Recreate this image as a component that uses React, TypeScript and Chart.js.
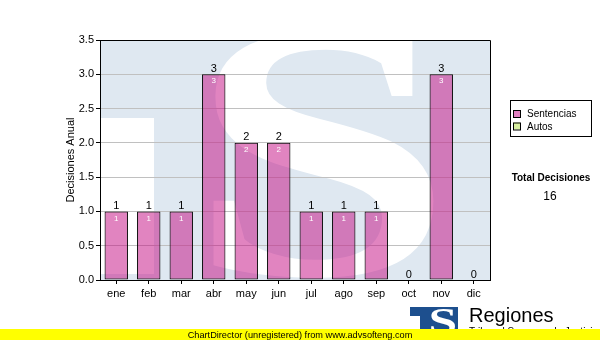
import React, { useEffect, useRef } from "react";
import { Chart, registerables } from "chart.js";

Chart.register(...registerables);

const MONTHS = ["ene", "feb", "mar", "abr", "may", "jun", "jul", "ago", "sep", "oct", "nov", "dic"];
const SENTENCIAS = [1, 1, 1, 3, 2, 2, 1, 1, 1, 0, 3, 0];
const AUTOS = [0, 0, 0, 0, 0, 0, 0, 0, 0, 0, 0, 0];
const Y_MIN = 0;
const Y_MAX = 3.5;
const Y_STEP = 0.5;
const LEGEND_LABELS = ["Sentencias", "Autos"];
const TOTAL_LABEL = "Total Decisiones";
const Y_TITLE = "Decisiones Anual";
const FOOTER = "ChartDirector (unregistered) from www.advsofteng.com";

const PINK = "rgba(196,10,130,0.5)";
const PINK_SWATCH = "#e080c0";
const GREEN_SWATCH = "#d8f0a0";
const WM_BLUE = "#dfe8f1";
const LOGO_BLUE = "#1d4f8e";
const SANS = '"Liberation Sans", Arial, sans-serif';

function drawGlyph(ctx: CanvasRenderingContext2D, ch: string, x0: number, y0: number, x1: number, y1: number, color: string) {
  ctx.save();
  ctx.font = 'bold 200px "Liberation Serif", serif';
  ctx.textAlign = "left";
  ctx.textBaseline = "alphabetic";
  const m = ctx.measureText(ch);
  const w = m.actualBoundingBoxLeft + m.actualBoundingBoxRight;
  const h = m.actualBoundingBoxAscent + m.actualBoundingBoxDescent;
  ctx.translate(x0, y0);
  ctx.scale((x1 - x0) / w, (y1 - y0) / h);
  ctx.fillStyle = color;
  ctx.fillText(ch, m.actualBoundingBoxLeft, m.actualBoundingBoxAscent);
  ctx.restore();
}

const watermarkPlugin = {
  id: "watermark",
  beforeDraw(chart: any) {
    const { ctx, chartArea: a } = chart;
    ctx.save();
    ctx.beginPath();
    ctx.rect(a.left, a.top, a.right - a.left, a.bottom - a.top);
    ctx.clip();
    ctx.fillStyle = WM_BLUE;
    ctx.fillRect(a.left, a.top, a.right - a.left, a.bottom - a.top);
    ctx.fillStyle = "#ffffff";
    ctx.fillRect(a.left, a.top + 78, 54, 156);
    drawGlyph(ctx, "S", a.left + 112, a.top - 8, a.left + 334, a.top + 238, "#ffffff");
    ctx.restore();
  },
};

const borderPlugin = {
  id: "frame",
  afterDatasetsDraw(chart: any) {
    const { ctx, chartArea: a } = chart;
    ctx.save();
    ctx.strokeStyle = "#000";
    ctx.lineWidth = 1;
    ctx.beginPath();
    ctx.moveTo(a.left, a.top + 0.5);
    ctx.lineTo(a.right + 0.5, a.top + 0.5);
    ctx.lineTo(a.right + 0.5, a.bottom);
    ctx.stroke();
    ctx.restore();
  },
};

const labelPlugin = {
  id: "valueLabels",
  afterDatasetsDraw(chart: any) {
    const { ctx } = chart;
    const meta = chart.getDatasetMeta(0);
    const data = chart.data.datasets[0].data as number[];
    ctx.save();
    ctx.textAlign = "center";
    meta.data.forEach((el: any, i: number) => {
      const v = data[i];
      ctx.fillStyle = "#000";
      ctx.font = `11px ${SANS}`;
      ctx.textBaseline = "bottom";
      ctx.fillText(String(v), el.x, el.y - 0);
      if (v > 0) {
        ctx.fillStyle = "#fff";
        ctx.font = `8px ${SANS}`;
        ctx.textBaseline = "top";
        ctx.fillText(String(v), el.x, el.y + 3);
      }
    });
    ctx.restore();
  },
};

const extrasPlugin = {
  id: "extras",
  afterDraw(chart: any) {
    const { ctx } = chart;
    ctx.save();
    // legend box
    ctx.strokeStyle = "#000";
    ctx.lineWidth = 1;
    ctx.strokeRect(510.5, 100.5, 81, 36);
    const swatches = [PINK_SWATCH, GREEN_SWATCH];
    ctx.font = `10px ${SANS}`;
    ctx.textAlign = "left";
    ctx.textBaseline = "alphabetic";
    LEGEND_LABELS.forEach((lab, i) => {
      const y = 110 + i * 12.5;
      ctx.fillStyle = swatches[i];
      ctx.fillRect(513, y, 7, 7);
      ctx.strokeRect(513.5, y + 0.5, 7, 7);
      ctx.fillStyle = "#000";
      ctx.fillText(lab, 527, y + 7);
    });
    // total
    const total = SENTENCIAS.reduce((s, v) => s + v, 0) + AUTOS.reduce((s, v) => s + v, 0);
    ctx.textAlign = "center";
    ctx.font = `bold 10px ${SANS}`;
    ctx.fillText(TOTAL_LABEL, 551, 181);
    ctx.font = `12px ${SANS}`;
    ctx.fillText(String(total), 550, 200);
    // logo
    ctx.fillStyle = LOGO_BLUE;
    ctx.fillRect(410, 307, 48, 22);
    ctx.fillStyle = "#fff";
    ctx.fillRect(410, 316, 10, 14);
    drawGlyph(ctx, "S", 431, 309, 455, 334, "#fff");
    ctx.fillStyle = "#000";
    ctx.textAlign = "left";
    ctx.font = `20px ${SANS}`;
    ctx.fillText("Regiones", 469, 322);
    ctx.font = `10px ${SANS}`;
    ctx.fillText("Tribunal Supremo de Justicia", 469, 335);
    // footer
    ctx.fillStyle = "#ffff00";
    ctx.fillRect(0, 329, 600, 11);
    ctx.fillStyle = "#000";
    ctx.textAlign = "center";
    ctx.font = `9.2px ${SANS}`;
    ctx.fillText(FOOTER, 300, 338);
    ctx.restore();
  },
};

export default function App() {
  const ref = useRef<HTMLCanvasElement>(null);
  useEffect(() => {
    if (!ref.current) return;
    const chart = new Chart(ref.current, {
      type: "bar",
      data: {
        labels: MONTHS,
        datasets: [
          {
            label: LEGEND_LABELS[0],
            data: SENTENCIAS,
            backgroundColor: PINK,
            borderColor: "#000",
            borderWidth: (c: any) => (c.raw > 0 ? 1 : 0),
            borderSkipped: false,
            barPercentage: 0.72,
            categoryPercentage: 1,
          },
        ],
      },
      options: {
        animation: false,
        responsive: false,
        layout: { padding: { left: 60, top: 40, right: 110, bottom: 0 } },
        plugins: { legend: { display: false }, tooltip: { enabled: false } },
        scales: {
          x: {
            afterFit: (s: any) => {
              s.height = 60;
            },
            grid: { drawOnChartArea: false, drawTicks: true, tickLength: 4, tickColor: "#000", offset: false },
            border: { color: "#000", width: 1 },
            ticks: { color: "#000", font: { family: SANS, size: 11 }, padding: 3 },
          },
          y: {
            min: Y_MIN,
            max: Y_MAX,
            afterFit: (s: any) => {
              s.width = 40;
            },
            grid: { color: "#c0c0c0", tickColor: "#000", tickLength: 4 },
            border: { color: "#000", width: 1 },
            ticks: {
              stepSize: Y_STEP,
              color: "#000",
              padding: 2,
              font: { family: SANS, size: 11 },
              callback: (v: any) => Number(v).toFixed(1),
            },
            title: { display: true, text: Y_TITLE, color: "#000", font: { family: SANS, size: 11 } },
          },
        },
      },
      plugins: [watermarkPlugin, borderPlugin, labelPlugin, extrasPlugin],
    });
    return () => chart.destroy();
  }, []);
  return (
    <div style={{ position: "fixed", left: 0, top: 0, width: 600, height: 340, background: "#fff" }}>
      <canvas ref={ref} width={600} height={340} style={{ display: "block" }} />
    </div>
  );
}
